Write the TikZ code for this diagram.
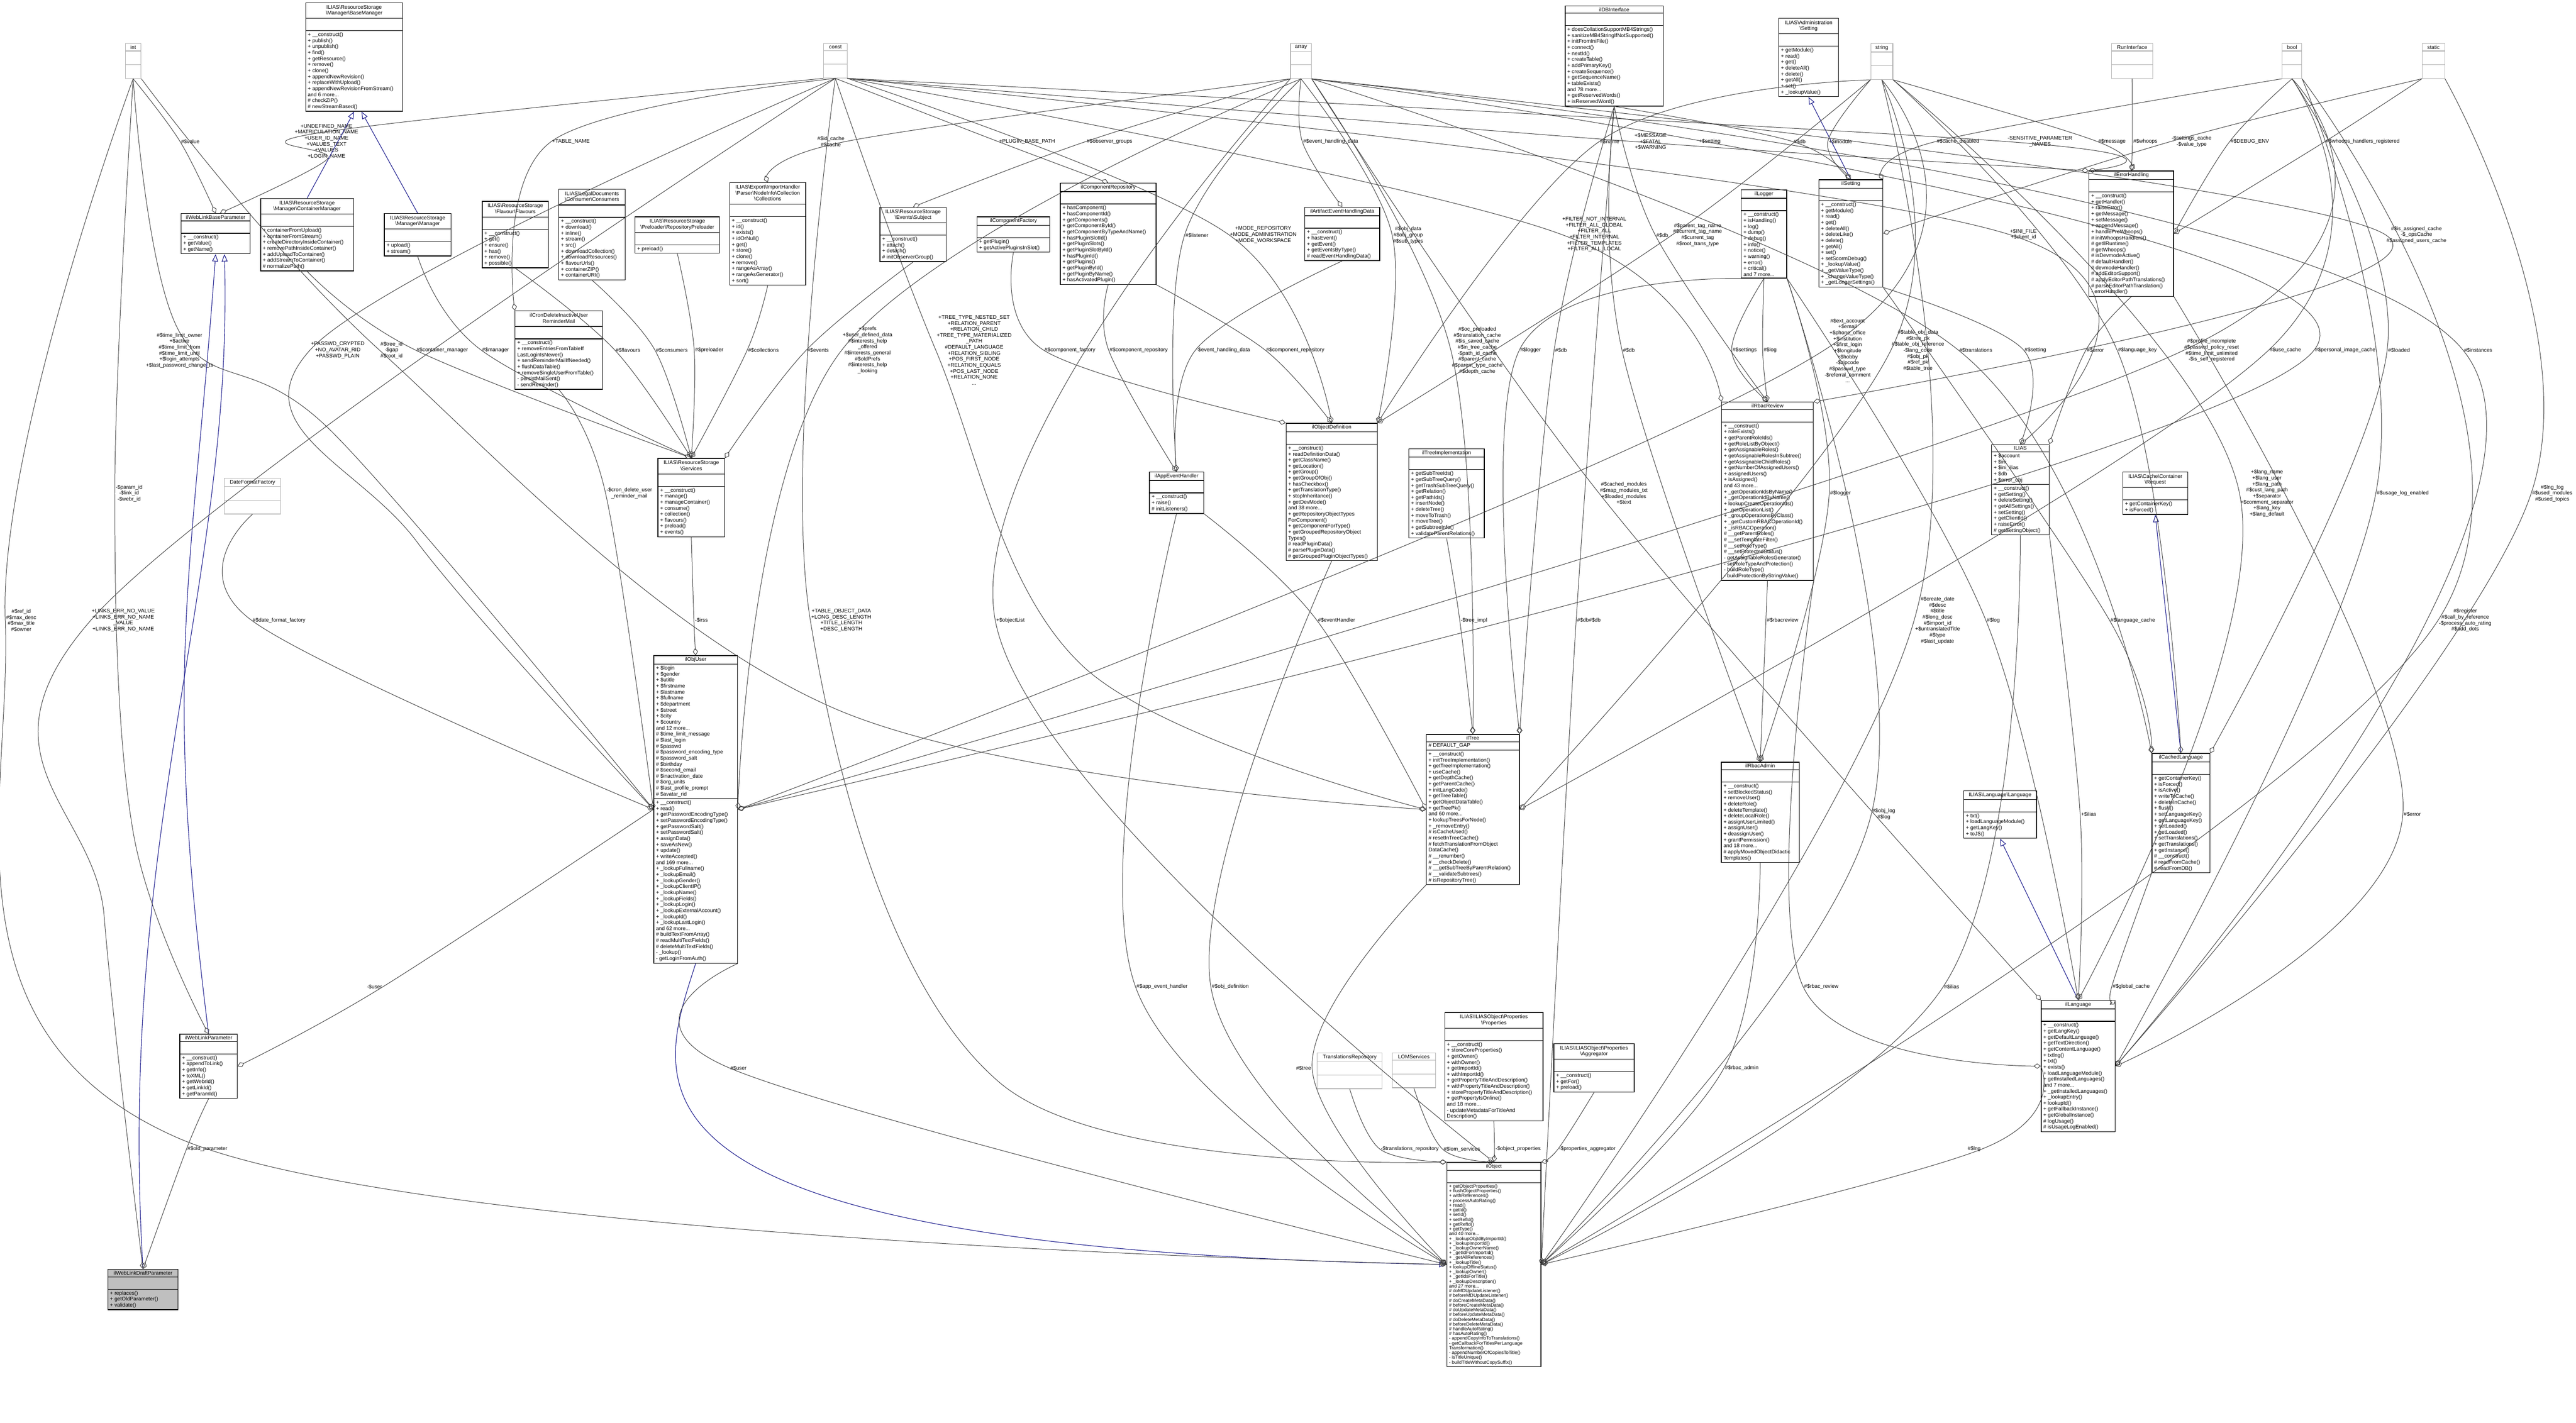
\documentclass[tikz,border=0pt]{standalone}
\usepackage{fontspec}
\setmainfont{Liberation Sans}
\usepackage{xcolor}
\usepackage{tikz}
\usetikzlibrary{shapes.multipart,arrows.meta}
\definecolor{inh}{HTML}{1A1A8C}
\newcommand{\ttl}[1]{\begin{tabular}{@{}c@{}}#1\end{tabular}}
\newcommand{\bs}{\textbackslash}
\newcommand{\emp}{\rule{0pt}{6pt}}
\newcommand{\rel}[2][]{\draw[aggr,#1] plot[smooth,tension=0.6] coordinates {#2};}
\tikzset{
	cls/.style={draw,rectangle split,rectangle split parts=3,anchor=north west,align=left,
		rectangle split part align={center,left,left},inner xsep=1.5pt,inner ysep=1pt,
		font=\fontsize{3.6}{4.1}\selectfont,line width=0.45pt,fill=white},
	ext/.style={draw=gray!60,rectangle split,rectangle split parts=3,anchor=north west,
		inner sep=1pt,font=\fontsize{3.6}{4.1}\selectfont,line width=0.4pt,fill=white},
	lbl/.style={font=\fontsize{3.6}{4.1}\selectfont,align=center,inner sep=0.5pt},
	aggr/.style={draw=black!75,line width=0.35pt,-{Diamond[open,length=5pt,width=3.5pt]}},
	inherit/.style={draw=inh,line width=0.4pt,-{Triangle[open,length=5pt,width=4pt]}}
}
\begin{document}
\begin{tikzpicture}
\useasboundingbox (0,0) rectangle (61.85,-34.17);
% plain types
\node[ext,minimum width=0.38cm] (int) at (3.00,-1.04) {int\nodepart{second}\rule{0pt}{7pt}\nodepart{third}\rule{0pt}{7pt}};
\node[ext,minimum width=0.56cm] (const) at (19.77,-1.04) {const\nodepart{second}\rule{0pt}{7pt}\nodepart{third}\rule{0pt}{7pt}};
\node[ext,minimum width=0.50cm] (array) at (30.98,-1.04) {array\nodepart{second}\rule{0pt}{7pt}\nodepart{third}\rule{0pt}{7pt}};
\node[ext,minimum width=0.53cm] (string) at (44.91,-1.04) {string\nodepart{second}\rule{0pt}{7pt}\nodepart{third}\rule{0pt}{7pt}};
\node[ext,minimum width=0.99cm] (runif) at (50.69,-1.04) {RunInterface\nodepart{second}\rule{0pt}{7pt}\nodepart{third}\rule{0pt}{7pt}};
\node[ext,minimum width=0.47cm] (bool) at (54.79,-1.04) {bool\nodepart{second}\rule{0pt}{7pt}\nodepart{third}\rule{0pt}{7pt}};
\node[ext,minimum width=0.54cm] (static) at (58.15,-1.04) {static\nodepart{second}\rule{0pt}{7pt}\nodepart{third}\rule{0pt}{7pt}};
\node[ext,minimum width=1.35cm] (dateff) at (5.38,-11.48) {DateFormatFactory\nodepart{second}\rule{0pt}{7pt}\nodepart{third}\rule{0pt}{7pt}};
\node[ext,minimum width=1.56cm] (transrepo) at (31.62,-25.28) {TranslationsRepository\nodepart{second}\rule{0pt}{7pt}\nodepart{third}\rule{0pt}{7pt}};
\node[ext,minimum width=1.04cm] (lom) at (33.42,-25.28) {LOMServices\nodepart{second}\rule{0pt}{7pt}\nodepart{third}\rule{0pt}{7pt}};
% classes
\node[cls,minimum width=2.33cm] (basemgr) at (7.33,-0.06) {\ttl{ILIAS\bs ResourceStorage\\\bs Manager\bs BaseManager}\nodepart{second}\emp\nodepart{third}+ \_\_construct()\\+ publish()\\+ unpublish()\\+ find()\\+ getResource()\\+ remove()\\+ clone()\\+ appendNewRevision()\\+ replaceWithUpload()\\+ appendNewRevisionFromStream()\\and 6 more...\\\# checkZIP()\\\# newStreamBased()};
\node[cls,minimum width=1.66cm] (wlbase) at (4.34,-5.12) {ilWebLinkBaseParameter\nodepart{second}\emp\nodepart{third}+ \_\_construct()\\+ getValue()\\+ getName()};
\node[cls,minimum width=2.23cm] (contmgr) at (6.25,-4.76) {\ttl{ILIAS\bs ResourceStorage\\\bs Manager\bs ContainerManager}\nodepart{second}\emp\nodepart{third}+ containerFromUpload()\\+ containerFromStream()\\+ createDirectoryInsideContainer()\\+ removePathInsideContainer()\\+ addUploadToContainer()\\+ addStreamToContainer()\\\# normalizePath()};
\node[cls,minimum width=1.60cm] (mgr) at (9.22,-5.12) {\ttl{ILIAS\bs ResourceStorage\\\bs Manager\bs Manager}\nodepart{second}\emp\nodepart{third}+ upload()\\+ stream()};
\node[cls,minimum width=1.59cm] (flavours) at (11.57,-4.83) {\ttl{ILIAS\bs ResourceStorage\\\bs Flavour\bs Flavours}\nodepart{second}\emp\nodepart{third}+ \_\_construct()\\+ get()\\+ ensure()\\+ has()\\+ remove()\\+ possible()};
\node[cls,minimum width=1.59cm] (consumers) at (13.41,-4.54) {\ttl{ILIAS\bs LegalDocuments\\\bs Consumer\bs Consumers}\nodepart{second}\emp\nodepart{third}+ \_\_construct()\\+ download()\\+ inline()\\+ stream()\\+ src()\\+ downloadCollection()\\+ downloadResources()\\+ flavourUrls()\\+ containerZIP()\\+ containerURI()};
\node[cls,minimum width=2.03cm] (preloader) at (15.24,-5.20) {\ttl{ILIAS\bs ResourceStorage\\\bs Preloader\bs RepositoryPreloader}\nodepart{second}\emp\nodepart{third}+ preload()};
\node[cls,minimum width=1.83cm] (collections) at (17.51,-4.38) {\ttl{ILIAS\bs Export\bs ImportHandler\\\bs Parser\bs NodeInfo\bs Collection\\\bs Collections}\nodepart{second}\emp\nodepart{third}+ \_\_construct()\\+ id()\\+ exists()\\+ idOrNull()\\+ get()\\+ store()\\+ clone()\\+ remove()\\+ rangeAsArray()\\+ rangeAsGenerator()\\+ sort()};
\node[cls,minimum width=2.10cm] (cron) at (12.36,-7.46) {\ttl{ilCronDeleteInactiveUser\\ReminderMail}\nodepart{second}\emp\nodepart{third}+ \_\_construct()\\+ removeEntriesFromTableIf\\LastLoginIsNewer()\\+ sendReminderMailIfNeeded()\\+ flushDataTable()\\+ removeSingleUserFromTable()\\- persistMailSent()\\- sendReminder()};
\node[cls,minimum width=1.60cm] (services) at (15.79,-11.00) {\ttl{ILIAS\bs ResourceStorage\\\bs Services}\nodepart{second}\emp\nodepart{third}+ \_\_construct()\\+ manage()\\+ manageContainer()\\+ consume()\\+ collection()\\+ flavours()\\+ preload()\\+ events()};
\node[cls,minimum width=2.01cm] (objuser) at (15.69,-15.74) {ilObjUser\nodepart{second}+ \$login\\+ \$gender\\+ \$utitle\\+ \$firstname\\+ \$lastname\\+ \$fullname\\+ \$department\\+ \$street\\+ \$city\\+ \$country\\and 12 more...\\\# \$time\_limit\_message\\\# \$last\_login\\\# \$passwd\\\# \$password\_encoding\_type\\\# \$password\_salt\\\# \$birthday\\\# \$second\_email\\\# \$inactivation\_date\\\# \$org\_units\\\# \$last\_profile\_prompt\\\# \$avatar\_rid\nodepart{third}+ \_\_construct()\\+ read()\\+ getPasswordEncodingType()\\+ setPasswordEncodingType()\\+ getPasswordSalt()\\+ setPasswordSalt()\\+ assignData()\\+ saveAsNew()\\+ update()\\+ writeAccepted()\\and 169 more...\\+ \_lookupFullname()\\+ \_lookupEmail()\\+ \_lookupGender()\\+ \_lookupClientIP()\\+ \_lookupName()\\+ \_lookupFields()\\+ \_lookupLogin()\\+ \_lookupExternalAccount()\\+ \_lookupId()\\+ \_lookupLastLogin()\\and 62 more...\\\# buildTextFromArray()\\\# readMultiTextFields()\\\# deleteMultiTextFields()\\- \_lookup()\\- getLoginFromAuth()};
\node[cls,minimum width=1.38cm] (wlparam) at (4.31,-24.83) {ilWebLinkParameter\nodepart{second}\emp\nodepart{third}+ \_\_construct()\\+ appendToLink()\\+ getInfo()\\+ toXML()\\+ getWebrId()\\+ getLinkId()\\+ getParamId()};
\node[cls,minimum width=1.69cm,fill=gray!50] (wldraft) at (2.58,-30.48) {ilWebLinkDraftParameter\nodepart{second}\emp\nodepart{third}+ replaces()\\+ getOldParameter()\\+ validate()};
\node[cls,minimum width=1.59cm] (subject) at (21.12,-4.97) {\ttl{ILIAS\bs ResourceStorage\\\bs Events\bs Subject}\nodepart{second}\emp\nodepart{third}+ \_\_construct()\\+ attach()\\+ detach()\\\# initObserverGroup()};
\node[cls,minimum width=1.75cm] (compfactory) at (23.45,-5.20) {ilComponentFactory\nodepart{second}\emp\nodepart{third}+ getPlugin()\\+ getActivePluginsInSlot()};
\node[cls,minimum width=2.30cm] (comprepo) at (25.45,-4.39) {ilComponentRepository\nodepart{second}\emp\nodepart{third}+ hasComponent()\\+ hasComponentId()\\+ getComponents()\\+ getComponentById()\\+ getComponentByTypeAndName()\\+ hasPluginSlotId()\\+ getPluginSlots()\\+ getPluginSlotById()\\+ hasPluginId()\\+ getPlugins()\\+ getPluginById()\\+ getPluginByName()\\+ hasActivatedPlugin()};
\node[cls,minimum width=1.80cm] (artifact) at (31.32,-4.97) {ilArtifactEventHandlingData\nodepart{second}\emp\nodepart{third}+ \_\_construct()\\+ hasEvent()\\+ getEvent()\\+ getEventsByType()\\\# readEventHandlingData()};
\node[cls,minimum width=2.36cm] (dbi) at (37.57,-0.13) {ilDBInterface\nodepart{second}\emp\nodepart{third}+ doesCollationSupportMB4Strings()\\+ sanitizeMB4StringIfNotSupported()\\+ initFromIniFile()\\+ connect()\\+ nextId()\\+ createTable()\\+ addPrimaryKey()\\+ createSequence()\\+ getSequenceName()\\+ tableExists()\\and 78 more...\\+ getReservedWords()\\+ isReservedWord()};
\node[cls,minimum width=2.19cm] (objdef) at (30.87,-10.16) {ilObjectDefinition\nodepart{second}\emp\nodepart{third}+ \_\_construct()\\+ readDefinitionData()\\+ getClassName()\\+ getLocation()\\+ getGroup()\\+ getGroupOfObj()\\+ hasCheckbox()\\+ getTranslationType()\\+ stopInheritance()\\+ getDevMode()\\and 38 more...\\+ getRepositoryObjectTypes\\ForComponent()\\+ getComponentForType()\\+ getGroupedRepositoryObject\\Types()\\\# readPluginData()\\\# parsePluginData()\\\# getGroupedPluginObjectTypes()};
\node[cls,minimum width=1.81cm] (treeimpl) at (33.82,-10.77) {ilTreeImplementation\nodepart{second}\emp\nodepart{third}+ getSubTreeIds()\\+ getSubTreeQuery()\\+ getTrashSubTreeQuery()\\+ getRelation()\\+ getPathIds()\\+ insertNode()\\+ deleteTree()\\+ moveToTrash()\\+ moveTree()\\+ getSubtreeInfo()\\+ validateParentRelations()};
\node[cls,minimum width=1.30cm] (appevent) at (27.59,-11.33) {ilAppEventHandler\nodepart{second}\emp\nodepart{third}+ \_\_construct()\\+ raise()\\\# initListeners()};
\node[cls,minimum width=2.23cm] (tree) at (34.24,-17.63) {ilTree\nodepart{second}\# DEFAULT\_GAP\nodepart{third}+ \_\_construct()\\+ initTreeImplementation()\\+ getTreeImplementation()\\+ useCache()\\+ getDepthCache()\\+ getParentCache()\\+ initLangCode()\\+ getTreeTable()\\+ getObjectDataTable()\\+ getTreePk()\\and 60 more...\\+ lookupTreesForNode()\\+ \_removeEntry()\\\# isCacheUsed()\\\# resetInTreeCache()\\\# fetchTranslationFromObject\\DataCache()\\\# \_\_renumber()\\\# \_\_checkDelete()\\\# \_\_getSubTreeByParentRelation()\\\# \_\_validateSubtrees()\\\# isRepositoryTree()};
\node[cls,minimum width=1.43cm] (admsetting) at (42.70,-0.43) {\ttl{ILIAS\bs Administration\\\bs Setting}\nodepart{second}\emp\nodepart{third}+ getModule()\\+ read()\\+ get()\\+ deleteAll()\\+ delete()\\+ getAll()\\+ set()\\+ \_lookupValue()};
\node[cls,minimum width=1.54cm] (setting) at (43.66,-4.31) {ilSetting\nodepart{second}\emp\nodepart{third}+ \_\_construct()\\+ getModule()\\+ read()\\+ get()\\+ deleteAll()\\+ deleteLike()\\+ delete()\\+ getAll()\\+ set()\\+ setScormDebug()\\+ \_lookupValue()\\+ \_getValueType()\\+ \_changeValueType()\\+ \_getLongerSettings()};
\node[cls,minimum width=1.09cm] (logger) at (41.80,-4.55) {ilLogger\nodepart{second}\emp\nodepart{third}+ \_\_construct()\\+ isHandling()\\+ log()\\+ dump()\\+ debug()\\+ info()\\+ notice()\\+ warning()\\+ error()\\+ critical()\\and 7 more...};
\node[cls,minimum width=2.03cm] (errh) at (50.15,-4.10) {ilErrorHandling\nodepart{second}\emp\nodepart{third}+ \_\_construct()\\+ getHandler()\\+ raiseError()\\+ getMessage()\\+ setMessage()\\+ appendMessage()\\+ handlePreWhoops()\\\# initWhoopsHandlers()\\\# getIlRuntime()\\\# getWhoops()\\\# isDevmodeActive()\\\# defaultHandler()\\\# devmodeHandler()\\\# addEditorSupport()\\\# applyEditorPathTranslations()\\\# parseEditorPathTranslation()\\- errorHandler()};
\node[cls,minimum width=2.20cm] (rbacreview) at (41.33,-9.65) {ilRbacReview\nodepart{second}\emp\nodepart{third}+ \_\_construct()\\+ roleExists()\\+ getParentRoleIds()\\+ getRoleListByObject()\\+ getAssignableRoles()\\+ getAssignableRolesInSubtree()\\+ getAssignableChildRoles()\\+ getNumberOfAssignedUsers()\\+ assignedUsers()\\+ isAssigned()\\and 43 more...\\+ \_getOperationIdsByName()\\+ \_getOperationIdByName()\\+ lookupCreateOperationIds()\\+ \_getOperationList()\\+ \_groupOperationsByClass()\\+ \_getCustomRBACOperationId()\\+ \_isRBACOperation()\\\# \_\_getParentRoles()\\\# \_\_setTemplateFilter()\\\# \_\_setRoleType()\\\# \_\_setProtectedStatus()\\- getAssignableRolesGenerator()\\- setRoleTypeAndProtection()\\- buildRoleType()\\- buildProtectionByStringValue()};
\node[cls,minimum width=1.38cm] (ilias) at (47.81,-10.67) {ILIAS\nodepart{second}+ \$account\\+ \$ini\\+ \$ini\_ilias\\+ \$db\\+ \$error\_obj\nodepart{third}+ \_\_construct()\\+ getSetting()\\+ deleteSetting()\\+ getAllSettings()\\+ setSetting()\\+ getClientId()\\+ raiseError()\\\# getSettingObject()};
\node[cls,minimum width=1.56cm] (request) at (50.96,-11.33) {\ttl{ILIAS\bs Cache\bs Container\\\bs Request}\nodepart{second}\emp\nodepart{third}+ getContainerKey()\\+ isForced()};
\node[cls,minimum width=1.39cm] (cachedlang) at (51.66,-18.09) {ilCachedLanguage\nodepart{second}\emp\nodepart{third}+ getContainerKey()\\+ isForced()\\+ isActive()\\+ writeToCache()\\+ deleteInCache()\\+ flush()\\+ setLanguageKey()\\+ getLanguageKey()\\+ setLoaded()\\+ getLoaded()\\+ setTranslations()\\+ getTranslations()\\+ getInstance()\\\# \_\_construct()\\\# readFromCache()\\\# readFromDB()};
\node[cls,minimum width=1.75cm] (langif) at (47.14,-18.99) {ILIAS\bs Language\bs Language\nodepart{second}\emp\nodepart{third}+ txt()\\+ loadLanguageModule()\\+ getLangKey()\\+ toJS()};
\node[cls,minimum width=1.87cm] (rbacadmin) at (41.32,-18.30) {ilRbacAdmin\nodepart{second}\emp\nodepart{third}+ \_\_construct()\\+ setBlockedStatus()\\+ removeUser()\\+ deleteRole()\\+ deleteTemplate()\\+ deleteLocalRole()\\+ assignUserLimited()\\+ assignUser()\\+ deassignUser()\\+ grantPermission()\\and 18 more...\\\# applyMovedObjectDidactic\\Templates()};
\node[cls,minimum width=1.78cm] (language) at (49.00,-24.02) {ilLanguage\nodepart{second}\emp\nodepart{third}+ \_\_construct()\\+ getLangKey()\\+ getDefaultLanguage()\\+ getTextDirection()\\+ getContentLanguage()\\+ txtlng()\\+ txt()\\+ exists()\\+ loadLanguageModule()\\+ getInstalledLanguages()\\and 7 more...\\+ \_getInstalledLanguages()\\+ \_lookupEntry()\\+ lookupId()\\+ getFallbackInstance()\\+ getGlobalInstance()\\\# logUsage()\\\# isUsageLogEnabled()};
\node[cls,minimum width=2.36cm] (props) at (34.68,-24.31) {\ttl{ILIAS\bs ILIASObject\bs Properties\\\bs Properties}\nodepart{second}\emp\nodepart{third}+ \_\_construct()\\+ storeCoreProperties()\\+ getOwner()\\+ withOwner()\\+ getImportId()\\+ withImportId()\\+ getPropertyTitleAndDescription()\\+ withPropertyTitleAndDescription()\\+ storePropertyTitleAndDescription()\\+ getPropertyIsOnline()\\and 18 more...\\- updateMetadataForTitleAnd\\Description()};
\node[cls,minimum width=1.93cm] (aggregator) at (37.30,-25.06) {\ttl{ILIAS\bs ILIASObject\bs Properties\\\bs Aggregator}\nodepart{second}\emp\nodepart{third}+ \_\_construct()\\+ getFor()\\+ preload()};
\node[cls,minimum width=2.26cm,font=\fontsize{3.2}{3.25}\selectfont] (object) at (34.73,-27.91) {ilObject\nodepart{second}\emp\nodepart{third}+ getObjectProperties()\\+ flushObjectProperties()\\+ withReferences()\\+ processAutoRating()\\+ read()\\+ getId()\\+ setId()\\+ setRefId()\\+ getRefId()\\+ getType()\\and 40 more...\\+ \_lookupObjIdByImportId()\\+ \_lookupImportId()\\+ \_lookupOwnerName()\\+ \_getIdForImportId()\\+ \_getAllReferences()\\+ \_lookupTitle()\\+ lookupOfflineStatus()\\+ \_lookupOwner()\\+ \_getIdsForTitle()\\+ \_lookupDescription()\\and 27 more...\\\# doMDUpdateListener()\\\# beforeMDUpdateListener()\\\# doCreateMetaData()\\\# beforeCreateMetaData()\\\# doUpdateMetaData()\\\# beforeUpdateMetaData()\\\# doDeleteMetaData()\\\# beforeDeleteMetaData()\\\# handleAutoRating()\\\# hasAutoRating()\\- appendCopyInfoToTranslations()\\- getCallbackForTitlesPerLanguage\\Transformation()\\- appendNumberOfCopiesToTitle()\\- isTitleUnique()\\- buildTitleWithoutCopySuffix()};
% labels
\node[lbl] (lvalue) at (4.57,-3.40) {\#\$value};
\node[lbl] (lundef) at (7.84,-3.40) {+UNDEFINED\_NAME\\+MATRICULATION\_NAME\\+USER\_ID\_NAME\\+VALUES\_TEXT\\+VALUES\\+LOGIN\_NAME};
\node[lbl] (ltable) at (13.71,-3.40) {+TABLE\_NAME};
\node[lbl] (lidcache) at (19.95,-3.40) {\#\$id\_cache\\\#\$cache};
\node[lbl] (lplugin) at (24.66,-3.40) {+PLUGIN\_BASE\_PATH};
\node[lbl] (lobserver) at (26.64,-3.40) {\#\$observer\_groups};
\node[lbl] (levent) at (31.95,-3.40) {\#\$event\_handling\_data};
\node[lbl] (lname) at (38.65,-3.40) {\#\$name};
\node[lbl] (lmessagec) at (39.63,-3.40) {+\$MESSAGE\\+\$FATAL\\+\$WARNING};
\node[lbl] (lsettingp) at (41.05,-3.40) {+\$setting};
\node[lbl] (ldb1) at (43.21,-3.40) {\#\$db};
\node[lbl] (lmodule) at (44.19,-3.40) {+\$module};
\node[lbl] (lcachedis) at (47.01,-3.40) {\#\$cache\_disabled};
\node[lbl] (lsensitive) at (48.98,-3.40) {-SENSITIVE\_PARAMETER\\\_NAMES};
\node[lbl] (lmessage) at (50.71,-3.40) {\#\$message};
\node[lbl] (lwhoops) at (51.51,-3.40) {\#\$whoops};
\node[lbl] (lsettingscache) at (52.62,-3.40) {-\$settings\_cache\\-\$value\_type};
\node[lbl] (ldebug) at (54.02,-3.40) {\#\$DEBUG\_ENV};
\node[lbl] (lwhoopsreg) at (56.73,-3.40) {\#\$whoops\_handlers\_registered};
\node[lbl] (llistener) at (28.74,-5.65) {\#\$listener};
\node[lbl] (lmode) at (30.33,-5.64) {+MODE\_REPOSITORY\\+MODE\_ADMINISTRATION\\+MODE\_WORKSPACE};
\node[lbl] (lobjdata) at (33.81,-5.65) {\#\$obj\_data\\\#\$obj\_group\\\#\$sub\_types};
\node[lbl] (lfilter) at (38.28,-5.63) {+FILTER\_NOT\_INTERNAL\\+FILTER\_ALL\_GLOBAL\\+FILTER\_ALL\\+FILTER\_INTERNAL\\+FILTER\_TEMPLATES\\+FILTER\_ALL\_LOCAL};
\node[lbl] (ldb2) at (39.91,-5.65) {\#\$db};
\node[lbl] (lparenttag) at (40.76,-5.64) {\#\$parent\_tag\_name\\\#\$current\_tag\_name\\\#\$current\_tag\\\#\$root\_trans\_type};
\node[lbl] (lini) at (48.58,-5.63) {+\$INI\_FILE\\+\$client\_id};
\node[lbl] (lisassigned) at (58.02,-5.64) {\#\$is\_assigned\_cache\\-\$\_opsCache\\\#\$assigned\_users\_cache};
\node[lbl] (ltimelimit) at (4.31,-8.42) {\#\$time\_limit\_owner\\+\$active\\\#\$time\_limit\_from\\\#\$time\_limit\_until\\+\$login\_attempts\\+\$last\_password\_change\_ts};
\node[lbl] (lpasswd) at (8.11,-8.41) {+PASSWD\_CRYPTED\\+NO\_AVATAR\_RID\\+PASSWD\_PLAIN};
\node[lbl] (ltreeid) at (9.40,-8.41) {\#\$tree\_id\\-\$gap\\\#\$root\_id};
\node[lbl] (lcontainer) at (10.62,-8.41) {\#\$container\_manager};
\node[lbl] (lmanager) at (11.90,-8.41) {\#\$manager};
\node[lbl] (lflavours) at (15.08,-8.41) {\#\$flavours};
\node[lbl] (lconsumers) at (16.13,-8.41) {\#\$consumers};
\node[lbl] (lpreloader) at (17.03,-8.41) {\#\$preloader};
\node[lbl] (lcollections) at (18.33,-8.41) {\#\$collections};
\node[lbl] (levents) at (19.64,-8.41) {\#\$events};
\node[lbl] (lprefs) at (20.83,-8.41) {+\$prefs\\+\$user\_defined\_data\\\#\$interests\_help\\\_offered\\\#\$interests\_general\\\#\$oldPrefs\\\#\$interests\_help\\\_looking};
\node[lbl] (ltreetype) at (23.39,-8.41) {+TREE\_TYPE\_NESTED\_SET\\+RELATION\_PARENT\\+RELATION\_CHILD\\+TREE\_TYPE\_MATERIALIZED\\\_PATH\\\#DEFAULT\_LANGUAGE\\+RELATION\_SIBLING\\+POS\_FIRST\_NODE\\+RELATION\_EQUALS\\+POS\_LAST\_NODE\\+RELATION\_NONE\\...};
\node[lbl] (lcompfactory) at (25.69,-8.41) {\#\$component\_factory};
\node[lbl] (lcomprepo) at (27.34,-8.41) {\#\$component\_repository};
\node[lbl] (leventdata) at (29.37,-8.41) {-\$event\_handling\_data};
\node[lbl] (lcomprepo2) at (31.10,-8.41) {\#\$component\_repository};
\node[lbl] (loc) at (35.47,-8.42) {\#\$oc\_preloaded\\\#\$translation\_cache\\\#\$is\_saved\_cache\\\#\$in\_tree\_cache\\-\$path\_id\_cache\\\#\$parent\_cache\\\#\$parent\_type\_cache\\\#\$depth\_cache};
\node[lbl] (llogger) at (36.75,-8.41) {\#\$logger};
\node[lbl] (ldb3) at (37.48,-8.41) {\#\$db};
\node[lbl] (ldb4) at (39.11,-8.41) {\#\$db};
\node[lbl] (lsettings) at (41.89,-8.41) {\#\$settings};
\node[lbl] (llog) at (42.50,-8.41) {\#\$log};
\node[lbl] (lext) at (44.36,-8.42) {\#\$ext\_account\\+\$email\\+\$phone\_office\\+\$institution\\+\$first\_login\\+\$longitude\\+\$hobby\\-\$zipcode\\\#\$passwd\_type\\-\$referral\_comment\\...};
\node[lbl] (ltabledata) at (46.05,-8.42) {\#\$table\_obj\_data\\\#\$tree\_pk\\\#\$table\_obj\_reference\\-\$lang\_code\\\#\$obj\_pk\\\#\$ref\_pk\\\#\$table\_tree};
\node[lbl] (ltranslations) at (47.44,-8.41) {\#\$translations};
\node[lbl] (lsetting2) at (48.87,-8.41) {\#\$setting};
\node[lbl] (lerror) at (50.31,-8.41) {\#\$error};
\node[lbl] (llangkey) at (51.32,-8.41) {\#\$language\_key};
\node[lbl] (lprofile) at (53.10,-8.42) {\#\$profile\_incomplete\\\#\$passwd\_policy\_reset\\\#\$time\_limit\_unlimited\\-\$is\_self\_registered};
\node[lbl] (lusecache) at (54.87,-8.41) {\#\$use\_cache};
\node[lbl] (lpersonal) at (56.31,-8.41) {\#\$personal\_image\_cache};
\node[lbl] (lloaded) at (57.60,-8.41) {\#\$loaded};
\node[lbl] (linstances) at (59.50,-8.41) {\#\$instances};
\node[lbl] (lparam) at (3.10,-11.85) {-\$param\_id\\-\$link\_id\\-\$webr\_id};
\node[lbl] (lcron) at (15.11,-11.85) {-\$cron\_delete\_user\\\_reminder\_mail};
\node[lbl] (lcached) at (38.99,-11.85) {\#\$cached\_modules\\\#\$map\_modules\_txt\\+\$loaded\_modules\\+\$text};
\node[lbl] (llogger2) at (44.19,-11.85) {\#\$logger};
\node[lbl] (llangname) at (54.43,-11.85) {+\$lang\_name\\+\$lang\_user\\+\$lang\_path\\\#\$cust\_lang\_path\\+\$separator\\+\$comment\_separator\\+\$lang\_key\\+\$lang\_default};
\node[lbl] (lusage) at (57.69,-11.85) {\#\$usage\_log\_enabled};
\node[lbl] (llnglog) at (61.28,-11.85) {\#\$lng\_log\\\#\$used\_modules\\\#\$used\_topics};
\node[lbl] (lrefid) at (0.51,-14.90) {\#\$ref\_id\\\#\$max\_desc\\\#\$max\_title\\\#\$owner};
\node[lbl] (llinkserr) at (2.96,-14.90) {+LINKS\_ERR\_NO\_VALUE\\+LINKS\_ERR\_NO\_NAME\\\_VALUE\\+LINKS\_ERR\_NO\_NAME};
\node[lbl] (ldateff) at (6.70,-14.90) {\#\$date\_format\_factory};
\node[lbl] (lirss) at (16.84,-14.90) {-\$irss};
\node[lbl] (ltableobj) at (20.20,-14.90) {+TABLE\_OBJECT\_DATA\\+LONG\_DESC\_LENGTH\\+TITLE\_LENGTH\\+DESC\_LENGTH};
\node[lbl] (lobjectlist) at (24.26,-14.90) {+\$objectList};
\node[lbl] (leventhandler) at (32.09,-14.90) {\#\$eventHandler};
\node[lbl] (ltreeimpl) at (35.39,-14.90) {-\$tree\_impl};
\node[lbl] (ldbdb) at (38.15,-14.90) {\#\$db\#\$db};
\node[lbl] (lrbacreview) at (42.80,-14.90) {\#\$rbacreview};
\node[lbl] (lcreate) at (46.52,-14.90) {\#\$create\_date\\\#\$desc\\\#\$title\\\#\$long\_desc\\\#\$import\_id\\+\$untranslatedTitle\\\#\$type\\\#\$last\_update};
\node[lbl] (llog2) at (47.86,-14.90) {\#\$log};
\node[lbl] (llangcache) at (51.21,-14.90) {\#\$language\_cache};
\node[lbl] (lregister) at (59.19,-14.90) {\#\$register\\\#\$call\_by\_reference\\-\$process\_auto\_rating\\\#\$add\_dots};
\node[lbl] (lobjlog) at (45.23,-19.55) {\#\$obj\_log\\\#\$log};
\node[lbl] (lilias2) at (50.15,-19.56) {+\$ilias};
\node[lbl] (lerror2) at (57.92,-19.56) {\#\$error};
\node[lbl] (luser) at (8.99,-23.70) {-\$user};
\node[lbl] (lappevent) at (27.90,-23.70) {\#\$app\_event\_handler};
\node[lbl] (lobjdef) at (29.54,-23.70) {\#\$obj\_definition};
\node[lbl] (lrbacreview2) at (43.73,-23.70) {\#\$rbac\_review};
\node[lbl] (lilias) at (46.86,-23.70) {\#\$ilias};
\node[lbl] (lglobal) at (51.17,-23.70) {\#\$global\_cache};
\node[lbl] (ltree) at (31.30,-25.65) {\#\$tree};
\node[lbl] (luser2) at (17.73,-25.65) {\#\$user};
\node[lbl] (lrbacadmin) at (41.82,-25.65) {\#\$rbac\_admin};
\node[lbl] (lold) at (4.98,-27.60) {\#\$old\_parameter};
\node[lbl] (ltrans) at (33.85,-27.60) {-\$translations\_repository};
\node[lbl] (llom) at (35.10,-27.60) {\#\$lom\_services};
\node[lbl] (lprops) at (36.45,-27.60) {-\$object\_properties};
\node[lbl] (laggr) at (38.11,-27.60) {-\$properties\_aggregator};
\node[lbl] (llng) at (47.40,-27.60) {\#\$lng};
% inheritance
\draw[inherit] (contmgr.north) -- (basemgr.south);
\draw[inherit] (mgr.north) -- ([xshift=5pt]basemgr.south);
\draw[inherit] (wlparam.north) .. controls (3.9,-16) and (4.6,-14) .. (wlbase.south);
\draw[inherit] (wldraft.north) .. controls (2.8,-20) and (5.6,-14) .. ([xshift=6pt]wlbase.south);
\draw[inherit] (setting.north) -- (admsetting.south);
\draw[inherit] (cachedlang.north) -- (request.south);
\draw[inherit] (language.north) -- (langif.south);
\draw[inherit] (objuser.south) .. controls (15.8,-26) and (14,-30) .. (object.west);
% members
\rel{(int.south) (lvalue.west) (wlbase.north)}
\rel{(const.south west) (7.6,-3.2) (lundef.south) ([xshift=3pt]wlbase.north)}
\rel{(int.south) (ltimelimit.north) (8,-10.4) (objuser.west)}
\rel{(int.south) (lparam.west) (3.2,-20) (wlparam.north)}
\rel{(int.south) (lrefid.west) (4.2,-27.3) (object.west)}
\rel{(int.south east) (ltreeid.west) (20,-17) (tree.west)}
\rel{(const.south) (llinkserr.west) (2.5,-22) (wldraft.north)}
\rel{(const.south) (lpasswd.west) (10,-13) (objuser.west)}
\rel{(const.south) (ltable.west) (cron.north west)}
\rel{(const.south) (ltableobj.west) (24,-26) (object.north west)}
\rel{(const.south) (lplugin.west) (comprepo.north)}
\rel{(const.south) (ltreetype.west) (26,-16) (tree.west)}
\rel{(const.south east) (lmode.west) (objdef.north)}
\rel{(const.south east) (lmessagec.west) (errh.north west)}
\rel{(const.south east) (lsensitive.west) (errh.north west)}
\rel{(const.south east) (lini.west) (ilias.north)}
\rel{(const.south east) (lfilter.west) (rbacreview.north west)}
\rel{(array.south west) (lidcache.east) (collections.north)}
\rel{(array.south west) (lobserver.west) (subject.north)}
\rel{(array.south) (levent.west) (artifact.north)}
\rel{(array.south) (llistener.west) (appevent.north)}
\rel{(array.south) (lobjdata.west) (objdef.north east)}
\rel{(array.south) (lprefs.west) (objuser.east)}
\rel{(array.south east) (loc.west) (tree.north)}
\rel{(array.south east) (lisassigned.west) (rbacreview.north east)}
\rel{(array.south east) (lcached.west) (language.north west)}
\rel{(array.south east) (ltranslations.west) (cachedlang.north west)}
\rel{(array.south east) (lpersonal.west) (objuser.east)}
\rel{(array.south east) (linstances.west) (language.east)}
\rel{(array.south west) (lobjectlist.west) (object.north)}
\rel{(string.south west) (lparenttag.west) (objdef.north east)}
\rel{(string.south west) (lname.west) (objdef.north east)}
\rel{(string.south) (lext.west) (objuser.east)}
\rel{(string.south) (lcreate.west) (object.east)}
\rel{(string.south) (ltabledata.west) (tree.east)}
\rel{(string.south west) (lmodule.west) (setting.north)}
\rel{(string.south east) (lmessage.west) (errh.north)}
\rel{(string.south east) (llangname.west) (language.north)}
\rel{(string.south east) (llangkey.west) (cachedlang.north)}
\rel{(bool.south west) (lcachedis.west) (setting.north east)}
\rel{(bool.south) (ldebug.west) (errh.east)}
\rel{(bool.south) (lprofile.west) (objuser.east)}
\rel{(bool.south) (lusecache.west) (tree.east)}
\rel{(bool.south) (lloaded.west) (cachedlang.north east)}
\rel{(bool.south east) (lregister.west) (object.east)}
\rel{(bool.south east) (lusage.west) (language.east)}
\rel{(static.south west) (lwhoopsreg.west) (errh.east)}
\rel{(static.south west) (lsettingscache.west) (setting.east)}
\rel{(static.south east) (llnglog.west) (language.east)}
\rel{(runif.south) (lwhoops.west) (errh.north)}
\rel{(dbi.south) (ldb1.west) (setting.north)}
\rel{(dbi.south) (ldb2.west) (rbacreview.north)}
\rel{(dbi.south) (ldb3.west) (tree.north east)}
\rel{(dbi.south) (ldb4.west) (rbacadmin.north)}
\rel{(dbi.south) (ldbdb.west) (object.east)}
\rel{(logger.south) (lsettings.west) (rbacreview.north)}
\rel{(logger.south) (llog.west) (rbacreview.north)}
\rel{(logger.south west) (llogger.west) (tree.north east)}
\rel{(logger.south east) (llogger2.west) (rbacadmin.north)}
\rel{(logger.south east) (lobjlog.west) (object.east)}
\rel{(logger.south east) (llog2.west) (language.north)}
\rel{(setting.south east) (lsetting2.west) (ilias.north)}
\rel{(setting.south east) (llangcache.west) (cachedlang.north west)}
\rel{(errh.south) (lerror.west) (ilias.north east)}
\rel{(errh.south east) (lerror2.west) (language.east)}
\rel{(contmgr.south) (lcontainer.west) (services.north)}
\rel{(mgr.south) (lmanager.west) (services.north)}
\rel{(flavours.south) (lflavours.west) (services.north)}
\rel{(consumers.south) (lconsumers.west) (services.north)}
\rel{(preloader.south) (lpreloader.west) (services.north)}
\rel{(collections.south) (lcollections.west) (services.north)}
\rel{(subject.south) (levents.west) (services.north east)}
\rel{(services.south) (lirss.west) (objuser.north)}
\rel{(cron.south) (lcron.west) (objuser.west)}
\rel{(dateff.south) (ldateff.west) (objuser.west)}
\rel{(wlparam.south) (lold.west) (wldraft.north)}
\rel{(objuser.west) (luser.east) (wlparam.east)}
\rel{(objuser.south east) (luser2.west) (object.west)}
\rel{(compfactory.south) (lcompfactory.west) (objdef.north west)}
\rel{(comprepo.south) (lcomprepo.west) (appevent.north)}
\rel{(artifact.south) (leventdata.west) (appevent.north)}
\rel{(comprepo.south east) (lcomprepo2.west) (objdef.north)}
\rel{(appevent.south) (lappevent.west) (object.west)}
\rel{(appevent.south east) (leventhandler.west) (tree.west)}
\rel{(objdef.south) (lobjdef.west) (object.west)}
\rel{(treeimpl.south) (ltreeimpl.west) (tree.north)}
\rel{(tree.south west) (ltree.east) (object.west)}
\rel{(rbacreview.south) (lrbacreview.west) (rbacadmin.north)}
\rel{(rbacreview.south east) (lrbacreview2.west) (language.west)}
\rel{(rbacadmin.south) (lrbacadmin.west) (object.east)}
\rel{(ilias.south) (lilias.west) (object.east)}
\rel{(ilias.south east) (lilias2.west) (language.north)}
\rel{(cachedlang.south west) (lglobal.west) (language.north east)}
\rel{(language.west) (llng.east) (object.east)}
\rel{(transrepo.south) (ltrans.west) (object.north west)}
\rel{(lom.south) (llom.west) (object.north)}
\rel{(props.south) (lprops.west) (object.north)}
\rel{(aggregator.south) (laggr.west) (object.north east)}
\end{tikzpicture}
\end{document}
